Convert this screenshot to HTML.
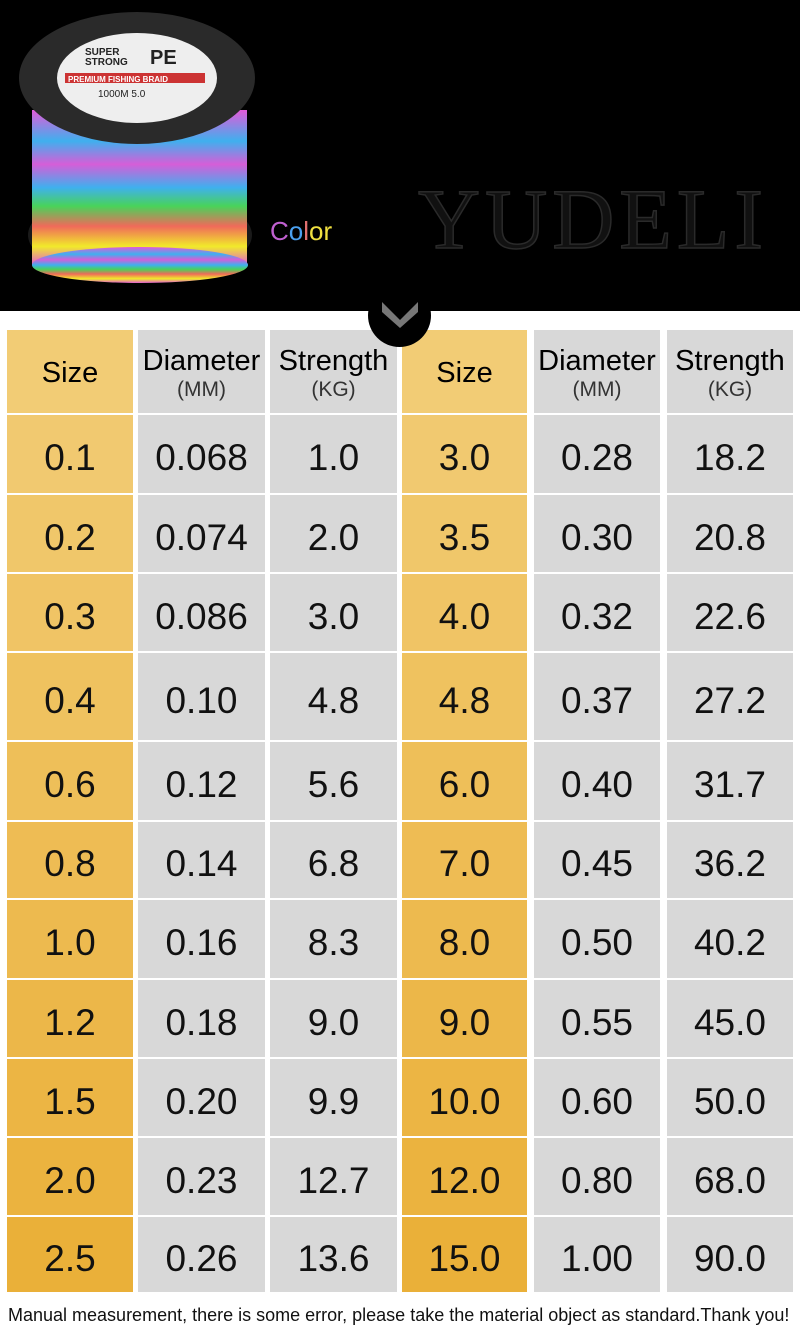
<!DOCTYPE html>
<html><head><meta charset="utf-8"><style>
*{margin:0;padding:0;box-sizing:border-box}
body{width:800px;height:1341px;background:#fff;position:relative;overflow:hidden;font-family:"Liberation Sans",sans-serif}
.hdr{position:absolute;left:0;top:0;width:800px;height:311px;background:#000}
.c{position:absolute;display:flex;align-items:center;justify-content:center;color:#111;font-size:37px;text-align:center;padding-top:8px}
.g{background:#d8d8d8}
.h{font-size:29px;flex-direction:column;line-height:1.1;padding-top:4px;color:#000}
.h small{font-size:21px;color:#333}
.foot{position:absolute;left:8px;top:1305px;font-size:18px;color:#111;white-space:nowrap}
</style></head><body>
<div class="hdr">
<svg width="800" height="311" style="position:absolute;left:0;top:0">
<defs>
<linearGradient id="rb" x1="0" y1="0" x2="0" y2="1">
<stop offset="0" stop-color="#e35ad8"/><stop offset=".2" stop-color="#3fb0ee"/><stop offset=".35" stop-color="#d55ed8"/><stop offset=".5" stop-color="#3fb0ee"/><stop offset=".62" stop-color="#48d35a"/><stop offset=".75" stop-color="#f06a5a"/><stop offset=".88" stop-color="#f1ea2a"/><stop offset="1" stop-color="#e260d0"/></linearGradient>
</defs>
<ellipse cx="140" cy="235" rx="112" ry="45" fill="#1a1a1a"/>
<rect x="32" y="110" width="215" height="155" fill="url(#rb)"/>
<ellipse cx="140" cy="265" rx="108" ry="18" fill="url(#rb)"/>
<ellipse cx="137" cy="78" rx="118" ry="66" fill="#2a2a2a"/>
<ellipse cx="137" cy="78" rx="80" ry="45" fill="#eee"/>
<rect x="65" y="73" width="140" height="10" fill="#c33"/>
<text x="85" y="55" font-size="10" font-weight="bold" fill="#222">SUPER</text>
<text x="85" y="65" font-size="10" font-weight="bold" fill="#222">STRONG</text>
<text x="150" y="64" font-size="20" font-weight="bold" fill="#222">PE</text>
<text x="68" y="82" font-size="8" font-weight="bold" fill="#fff">PREMIUM FISHING BRAID</text>
<text x="98" y="97" font-size="10" fill="#222">1000M 5.0</text>
<text x="270" y="240" font-size="26" fill="#c060d0">C<tspan fill="#4aa0f0">o</tspan><tspan fill="#e07070">l</tspan><tspan fill="#f0e040">o</tspan><tspan fill="#f0e040">r</tspan></text>
<text x="418" y="248" font-family="Liberation Serif" font-size="86" fill="#111" stroke="#2a2a2a" stroke-width="1.5" textLength="345">YUDELI</text>
</svg>
</div>
<div id="t"></div>
<div style="position:absolute;left:368px;top:284px;width:63px;height:63px;border-radius:50%;background:#000"></div>
<svg width="40" height="30" style="position:absolute;left:380px;top:300px"><polygon points="2,2 20,20 38,2 38,12 20,28 2,12" fill="#777"/></svg>
<div class="foot">Manual measurement, there is some error, please take the material object as standard.Thank you!</div>
<script>
(function(){
var cols=[[7,126],[138,127],[270,127],[402,125],[534,126],[667,126]];
var rows=[330,413,493,572,651,740,820,898,978,1057,1136,1215,1292];
var data=[["0.1","0.068","1.0","3.0","0.28","18.2"],["0.2","0.074","2.0","3.5","0.30","20.8"],["0.3","0.086","3.0","4.0","0.32","22.6"],["0.4","0.10","4.8","4.8","0.37","27.2"],["0.6","0.12","5.6","6.0","0.40","31.7"],["0.8","0.14","6.8","7.0","0.45","36.2"],["1.0","0.16","8.3","8.0","0.50","40.2"],["1.2","0.18","9.0","9.0","0.55","45.0"],["1.5","0.20","9.9","10.0","0.60","50.0"],["2.0","0.23","12.7","12.0","0.80","68.0"],["2.5","0.26","13.6","15.0","1.00","90.0"]];
var hd=["Size","Diameter<small>(MM)</small>","Strength<small>(KG)</small>"];
var h="";
function gold(y){var f=(y-330)/960;var r=Math.round(242-8*f),g=Math.round(205-30*f),b=Math.round(120-65*f);return "rgb("+r+","+g+","+b+")";}
for(var r=0;r<12;r++){var ty=rows[r]+(r?2:0),ht=rows[r+1]-ty;
for(var c=0;c<6;c++){var gd=(c%3==0);var st="left:"+cols[c][0]+"px;top:"+ty+"px;width:"+cols[c][1]+"px;height:"+ht+"px;";
if(gd)st+="background:"+gold(ty+ht/2)+";";
var txt=r==0?hd[c%3]:data[r-1][c];
h+='<div class="c'+(gd?'':' g')+(r==0?' h':'')+'" style="'+st+'">'+txt+'</div>';}}
document.getElementById("t").innerHTML=h;
})();
</script>
</body></html>
